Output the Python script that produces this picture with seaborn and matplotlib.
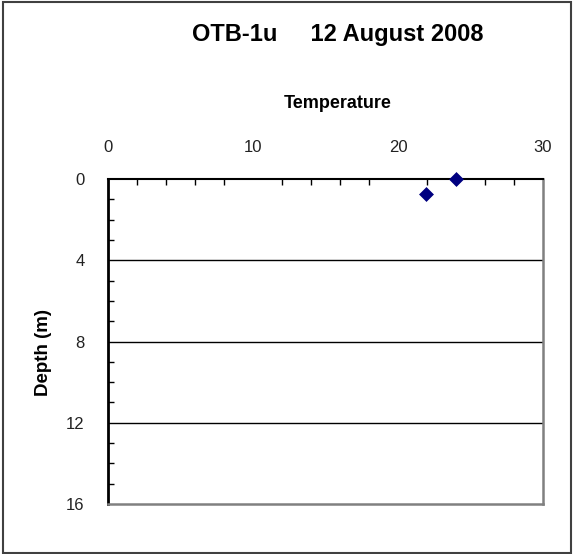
import pandas as pd
import numpy as np
import seaborn as sns
import matplotlib
matplotlib.use('Agg')
import matplotlib.pyplot as plt
from matplotlib.patches import Rectangle
from matplotlib.ticker import MultipleLocator

# readings off the profile
temperature = [24.0, 21.9]
depth = [0.0, 0.75]

x_ticks = [0, 10, 20, 30]
y_ticks = [0, 4, 8, 12, 16]
gridlines = [4, 8, 12]

df = pd.DataFrame({'Temperature': temperature, 'Depth': depth})

sns.set_style('white')
plt.rcParams['font.family'] = ['Liberation Sans', 'DejaVu Sans']
plt.rcParams['text.color'] = 'black'

W, H = 573, 554
fig = plt.figure(figsize=(W / 100, H / 100), dpi=100)
ax = fig.add_axes([108 / W, 1 - 504 / H, 435 / W, 325 / H])

sns.scatterplot(data=df, x='Temperature', y='Depth', marker='D', color='#000080',
                s=50, edgecolor='#000080', linewidth=0.5, ax=ax, zorder=5, clip_on=False)

ax.set_xlim(0, 30)
ax.set_ylim(16, 0)
ax.set_xticks(x_ticks)
ax.set_yticks(y_ticks)
ax.xaxis.set_minor_locator(MultipleLocator(2))
ax.yaxis.set_minor_locator(MultipleLocator(1))

ax.xaxis.tick_top()
ax.tick_params(axis='x', which='major', direction='in', length=0, pad=17.5,
               labelsize=12, labelcolor='#222222')
ax.tick_params(axis='x', which='minor', direction='in', length=4, width=1,
               colors='black', top=True, bottom=False)
ax.tick_params(axis='y', which='major', direction='in', length=0, pad=17,
               labelsize=12, labelcolor='#222222')
ax.tick_params(axis='y', which='minor', direction='in', length=4, width=1,
               colors='black', left=True)

for yv in gridlines:
    ax.axhline(yv, color='black', linewidth=1, zorder=1)

ax.spines['top'].set_color('black')
ax.spines['top'].set_linewidth(1.5)
ax.spines['left'].set_color('black')
ax.spines['left'].set_linewidth(2)
ax.spines['right'].set_color('#808080')
ax.spines['right'].set_linewidth(1.8)
ax.spines['bottom'].set_color('#808080')
ax.spines['bottom'].set_linewidth(1.8)

ax.set_xlabel('')
ax.set_ylabel('')

fig.text(338 / W, 1 - 34 / H, 'OTB-1u     12 August 2008', ha='center', va='center',
         fontsize=17, fontweight='bold')
fig.text(338 / W, 1 - 104 / H, 'Temperature', ha='center', va='center',
         fontsize=13, fontweight='bold')
fig.text(43 / W, 1 - 352 / H, 'Depth (m)', ha='center', va='center', rotation=90,
         fontsize=13.5, fontweight='bold')

fig.patches.append(Rectangle((2.5 / W, 1.5 / H), (W - 5) / W, (H - 3.5) / H,
                             transform=fig.transFigure, fill=False,
                             edgecolor='#404040', linewidth=1.5))

plt.savefig('out.png', dpi=100)
